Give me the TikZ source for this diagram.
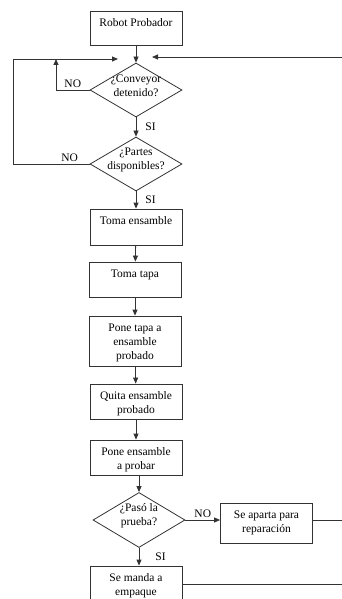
\documentclass[tikz,border=0pt]{standalone}
\usepackage{fontspec}
\setmainfont{Liberation Serif}
\usetikzlibrary{arrows.meta,shapes.geometric}

\begin{document}
\begin{tikzpicture}[
  x=1pt,
  y=-1pt,
  >={Triangle[length=6pt,width=5pt]},
  every node/.style={align=center},
  line/.style={draw=black!80, line width=0.8pt},
  arr/.style={line, ->},
  stepbox/.style={draw=black!80, line width=0.8pt, minimum width=92pt, inner sep=0pt},
  steptext/.style={font=\fontsize{11.5}{14}\selectfont, anchor=north, yshift=-8pt, inner sep=0pt},
  decision/.style={diamond, draw=black!80, line width=0.8pt, minimum width=92pt, minimum height=54pt, inner sep=0pt},
  dectext/.style={font=\fontsize{11.5}{14}\selectfont, anchor=center, yshift=4pt, inner sep=0pt},
  tag/.style={font=\fontsize{11.5}{14}\selectfont, inner sep=0pt}
]
\clip (0,0) rectangle (342,599);

\node[stepbox, minimum height=34pt, label={[steptext]above:Robot Probador}] (robot) at (136,28) {};
\node[decision, label={[dectext]center:¿Conveyor\\detenido?}] (conveyor) at (136,90) {};
\node[decision, label={[dectext]center:¿Partes\\disponibles?}] (partes) at (136,164) {};
\node[stepbox, minimum height=36pt, label={[steptext]above:Toma ensamble}] (toma) at (136,227) {};
\node[stepbox, minimum height=35pt, label={[steptext]above:Toma tapa}] (tapa) at (135,279.5) {};
\node[stepbox, minimum height=50pt, label={[steptext]above:Pone tapa a\\ensamble\\probado}] (ponetapa) at (135,341) {};
\node[stepbox, minimum height=35pt, label={[steptext]above:Quita ensamble\\probado}] (quita) at (136,401.5) {};
\node[stepbox, minimum height=35pt, label={[steptext]above:Pone ensamble\\a probar}] (poneens) at (136,457.5) {};
\node[decision, minimum height=55pt, label={[dectext]center:¿Pasó la\\prueba?}] (pasa) at (139,520) {};
\node[stepbox, minimum height=40pt, label={[steptext]above:Se aparta para\\reparación}] (aparta) at (266.5,523) {};
\node[stepbox, minimum height=50pt, label={[steptext]above:Se manda a\\empaque}] (manda) at (136,591) {};

\coordinate (loopL) at (13,59);
\coordinate (loopM) at (56,59);
\coordinate (joinL) at (118,59);
\coordinate (joinR) at (152,57);
\coordinate (backR) at (342,57);
\coordinate (exitR1) at (342,520);
\coordinate (exitR2) at (342,584);

\draw[arr] (robot) -- (conveyor);
\draw[arr] (conveyor.west) -| node[tag, pos=0.25, above=2pt] {NO} (loopM);
\draw[arr] (partes.west) -| node[tag, pos=0.13, above=2pt] {NO} (loopL) -- (joinL);
\draw[arr] (backR) -- (joinR);
\draw[arr] (conveyor) -- node[tag, right=9pt] {SI} (partes);
\draw[arr] (partes) -- node[tag, right=9pt] {SI} (toma);
\draw[arr] (toma) -- (tapa);
\draw[arr] (tapa) -- (ponetapa);
\draw[arr] (ponetapa) -- (quita);
\draw[arr] (quita) -- (poneens);
\draw[arr] (poneens.south -| pasa.north) -- (pasa.north);
\draw[arr] (pasa.east) -- node[tag, above=2pt] {NO} (pasa.east -| aparta.west);
\draw[line] (aparta.east |- pasa.east) -- (exitR1);
\draw[arr] (pasa.south) -- node[tag, right=16pt] {SI} (pasa.south |- manda.north);
\draw[line] (manda.east |- exitR2) -- (exitR2);
\end{tikzpicture}
\end{document}
